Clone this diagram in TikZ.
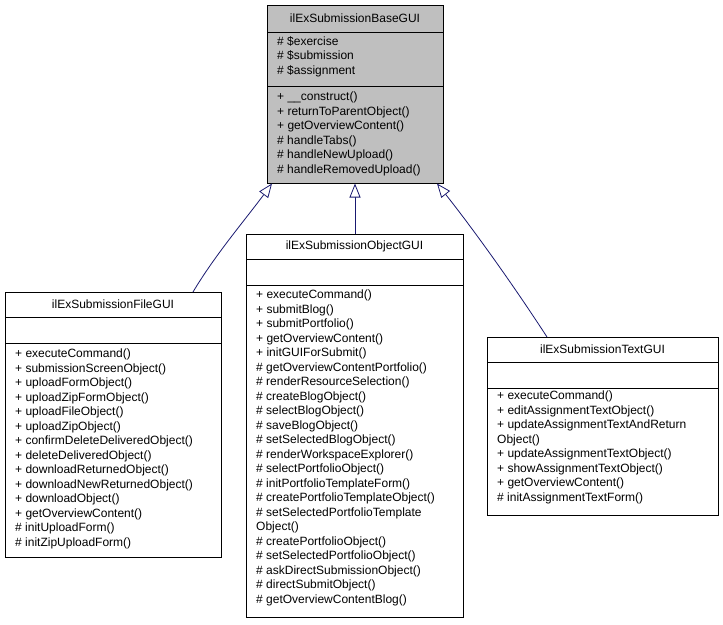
\documentclass[tikz,border=0pt]{standalone}
\usepackage{fontspec}
\setmainfont{Liberation Sans}
\usetikzlibrary{arrows.meta}
\definecolor{edge}{HTML}{191970}
\begin{document}
\begin{tikzpicture}[x=1pt,y=-1pt,
  box/.style={draw=black, line width=0.9pt, anchor=north west, inner sep=0pt},
  sep/.style={line width=0.9pt},
  ttl/.style={font=\fontsize{12}{14.5}\selectfont, inner sep=0pt},
  mem/.style={font=\fontsize{12}{14.5}\selectfont, anchor=north west, align=left, inner sep=0pt},
  inh/.style={draw=edge, line width=0.8pt, -{Triangle[open, length=14pt, width=11pt, fill=white]}}]
\useasboundingbox (0,0) rectangle (723,624);
% base
\node[box, fill=black!25, minimum width=176pt, minimum height=178pt] (base) at (267,5) {};
\draw[sep] (267,32) -- (443,32) (267,86) -- (443,86);
\node[ttl] (baset) at (355,18.5) {ilExSubmissionBaseGUI};
\node[mem] (basea) at (277,36) {\# \$exercise\\\# \$submission\\\# \$assignment};
\node[mem] (basem) at (277,92) {+ \_\_construct()\\+ returnToParentObject()\\+ getOverviewContent()\\\# handleTabs()\\\# handleNewUpload()\\\# handleRemovedUpload()};
% file
\node[box, minimum width=216pt, minimum height=265pt] (file) at (5,292) {};
\draw[sep] (5,317) -- (221,317) (5,343) -- (221,343);
\node[ttl] (filet) at (113,304.5) {ilExSubmissionFileGUI};
\node[mem] (filem) at (15,349) {+ executeCommand()\\+ submissionScreenObject()\\+ uploadFormObject()\\+ uploadZipFormObject()\\+ uploadFileObject()\\+ uploadZipObject()\\+ confirmDeleteDeliveredObject()\\+ deleteDeliveredObject()\\+ downloadReturnedObject()\\+ downloadNewReturnedObject()\\+ downloadObject()\\+ getOverviewContent()\\\# initUploadForm()\\\# initZipUploadForm()};
% object
\node[box, minimum width=217pt, minimum height=383pt] (obj) at (246,234) {};
\draw[sep] (246,259) -- (463,259) (246,285) -- (463,285);
\node[ttl] (objt) at (354.5,246.5) {ilExSubmissionObjectGUI};
\node[mem] (objm) at (256,290) {+ executeCommand()\\+ submitBlog()\\+ submitPortfolio()\\+ getOverviewContent()\\+ initGUIForSubmit()\\\# getOverviewContentPortfolio()\\\# renderResourceSelection()\\\# createBlogObject()\\\# selectBlogObject()\\\# saveBlogObject()\\\# setSelectedBlogObject()\\\# renderWorkspaceExplorer()\\\# selectPortfolioObject()\\\# initPortfolioTemplateForm()\\\# createPortfolioTemplateObject()\\\# setSelectedPortfolioTemplate\\Object()\\\# createPortfolioObject()\\\# setSelectedPortfolioObject()\\\# askDirectSubmissionObject()\\\# directSubmitObject()\\\# getOverviewContentBlog()};
% text
\node[box, minimum width=231pt, minimum height=178pt] (txt) at (487,337) {};
\draw[sep] (487,362) -- (718,362) (487,388) -- (718,388);
\node[ttl] (txtt) at (602.5,349.5) {ilExSubmissionTextGUI};
\node[mem] (txtm) at (497,391) {+ executeCommand()\\+ editAssignmentTextObject()\\+ updateAssignmentTextAndReturn\\Object()\\+ updateAssignmentTextObject()\\+ showAssignmentTextObject()\\+ getOverviewContent()\\\# initAssignmentTextForm()};
% edges
\coordinate (fs) at (193,292);
\coordinate (bl) at (272,183.5);
\coordinate (bm) at (355,183.5);
\coordinate (os) at (355,234);
\coordinate (ts) at (547,337);
\coordinate (br) at (437,183.5);
\draw[inh] (fs) .. controls (215,255) and (245,220) .. (bl);
\draw[inh] (os) -- (bm);
\draw[inh] (ts) .. controls (510,280) and (470,225) .. (br);
\end{tikzpicture}
\end{document}
